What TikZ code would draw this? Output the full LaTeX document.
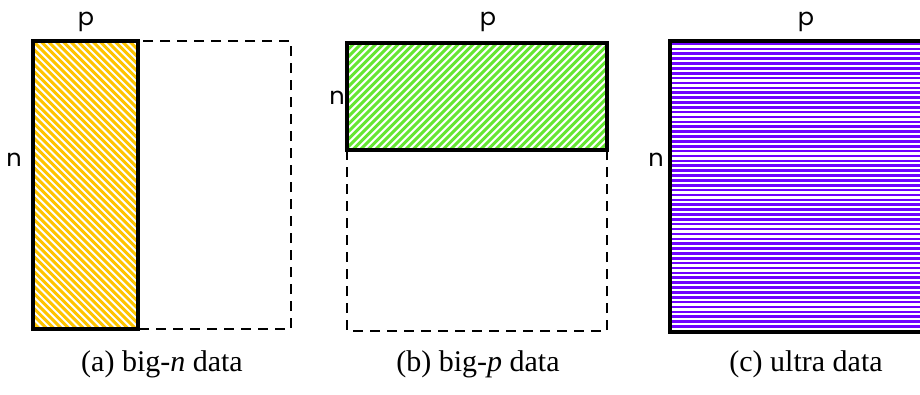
\documentclass[tikz,border=0pt]{standalone}
\usepackage{fontspec}
\setmainfont{Liberation Serif}
\newfontfamily\geo{Poppins}
\definecolor{gold}{HTML}{FFC400}
\definecolor{lgreen}{HTML}{66E633}
\definecolor{violet2}{HTML}{7000FF}
\tikzset{
  solidbox/.style={draw=black, line width=4pt},
  dashbox/.style={draw=black, line width=2.3pt, dash pattern=on 10pt off 7pt},
  dimlabel/.style={font=\geo\fontsize{24}{24}\selectfont, inner sep=0pt},
  caption/.style={font=\fontsize{30}{30}\selectfont, inner sep=0pt},
}
\begin{document}
\begin{tikzpicture}[x=1pt,y=-1pt]
\useasboundingbox (0,0) rectangle (920,394);
\clip (0,0) rectangle (920,394);
% (a)
\begin{scope}
  \clip (33,41) rectangle (138,329);
  \foreach \i in {-45,...,16} {
    \draw[gold, line width=3pt] (33+7.4*\i,41) -- ++(300,300);
  }
\end{scope}
\draw[dashbox] (138,41) rectangle (291,329);
\draw[solidbox] (33,41) rectangle (138,329);
\node[dimlabel] (pa) at (86,22) {p};
\node[dimlabel] (na) at (14,160) {n};
\node[caption] (ca) at (162,364) {(a) big-\textit{n} data};
% (b)
\begin{scope}
  \clip (347,43) rectangle (607,150);
  \foreach \i in {0,...,52} {
    \draw[lgreen, line width=3pt] (347+7.5*\i,43) -- ++(-120,120);
  }
\end{scope}
\draw[dashbox] (347,150) rectangle (607,331);
\draw[solidbox] (347,43) rectangle (607,150);
\node[dimlabel] (pb) at (488,22) {p};
\node[dimlabel] (nb) at (337,98) {n};
\node[caption] (cb) at (478,364) {(b) big-\textit{p} data};
% (c)
\begin{scope}
  \clip (670,41) rectangle (940,332);
  \foreach \i in {0,...,59} {
    \draw[violet2, line width=2.6pt] (670,44+4.87*\i) -- (940,44+4.87*\i);
  }
\end{scope}
\draw[solidbox] (670,41) rectangle (940,332);
\node[dimlabel] (pc) at (806,22) {p};
\node[dimlabel] (nc) at (656,160) {n};
\node[caption] (cc) at (806,364) {(c) ultra data};
\end{tikzpicture}
\end{document}
